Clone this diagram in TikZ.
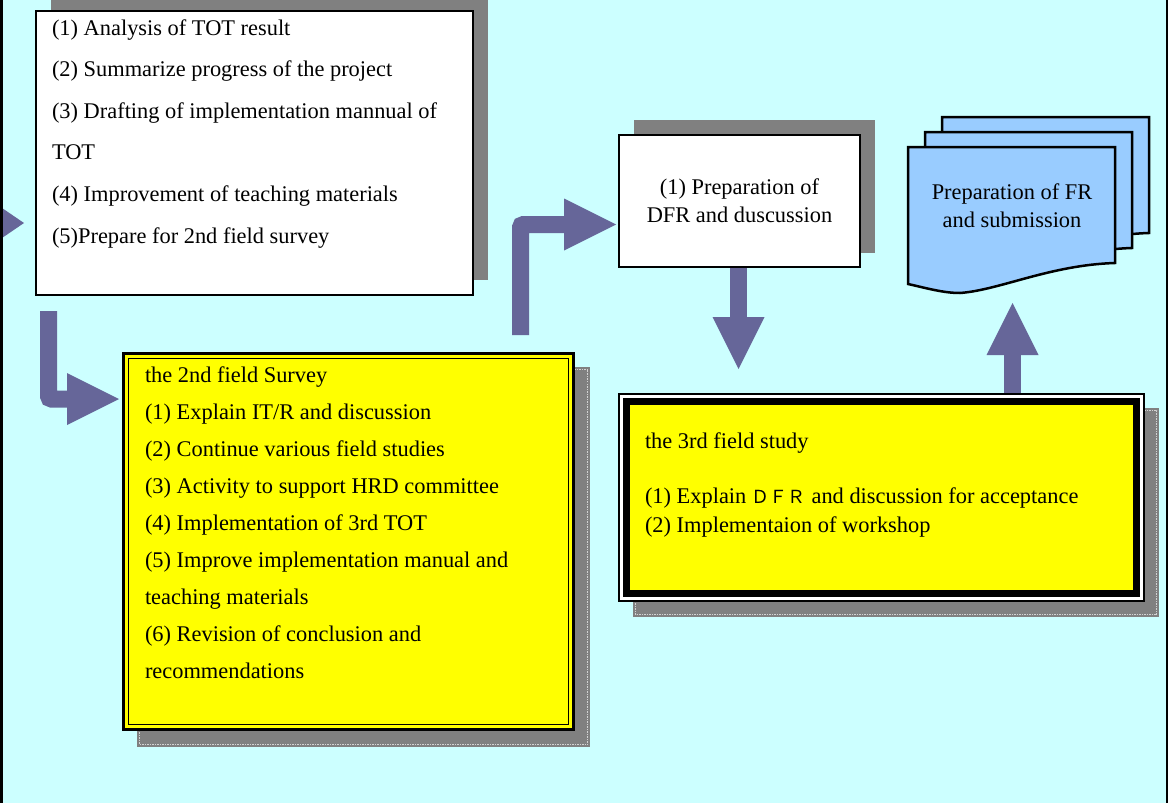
\documentclass[tikz,border=0pt]{standalone}
\usepackage{fontspec}
\setmainfont{Liberation Serif}
\newfontfamily\cjkgothic{Noto Sans CJK JP}
\usetikzlibrary{calc,arrows.meta,backgrounds}

\definecolor{bgcyan}{HTML}{CCFFFF}
\definecolor{flowarrow}{HTML}{666699}
\definecolor{sheetblue}{HTML}{99CCFF}
\definecolor{shadegray}{HTML}{808080}
\definecolor{notepad}{HTML}{FFFF00}

\tikzset{
  plainbox/.style={draw=black, fill=white, inner sep=0pt, outer sep=0pt, anchor=north west},
  % multi-line text: the base anchor sits on the last line's baseline
  listtext/.style={inner sep=0pt, outer sep=0pt, align=left, anchor=base west},
  flow/.style={draw=flowarrow, line width=17pt, rounded corners=3pt,
    -{Triangle[length=52pt,width=52pt,line width=0pt]}},
  shade/.style={fill=shadegray},
  shadeline/.style={draw=white, draw opacity=0.65, line width=0.8pt, dash pattern=on 1.5pt off 1pt},
  sheet/.style={draw=black, line width=2.5pt, fill=sheetblue, line join=miter},
}

\begin{document}
\begin{tikzpicture}[x=1pt,y=-1pt]
\useasboundingbox (0,0) rectangle (1168,803);

% ---- first work phase ----
\node[plainbox, line width=2pt, minimum width=437pt, minimum height=284pt] (box1) at (36,11) {};
\node[listtext, font=\fontsize{22.4}{41.6}\selectfont] (box1text) at ($(box1.north west)+(16,232)$)
  {(1) Analysis of TOT result\\
   (2) Summarize progress of the project\\
   (3) Drafting of implementation mannual of\\
   TOT\\
   (4) Improvement of teaching materials\\
   (5)Prepare for 2nd field survey};

% ---- draft final report ----
\node[plainbox, line width=1.5pt, minimum width=241pt, minimum height=132pt, align=center,
      font=\fontsize{22.4}{28}\selectfont] (dfr) at (619,135)
  {(1) Preparation of\\DFR and duscussion};

% ---- second field survey ----
\node[draw=black, line width=3pt, fill=notepad, minimum width=450pt, minimum height=376pt,
      anchor=north west, inner sep=0pt, outer sep=0pt] (box2) at (123.5,353.5) {};
\draw[line width=1.5pt] ($(box2.north west)+(5,5)$) rectangle ($(box2.south east)+(-5,-5)$);
\node[listtext, font=\fontsize{22.4}{37}\selectfont] (box2text) at ($(box2.north west)+(21.5,324.5)$)
  {the 2nd field Survey\\
   (1) Explain IT/R and discussion\\
   (2) Continue various field studies\\
   (3) Activity to support HRD committee\\
   (4) Implementation of 3rd TOT\\
   (5) Improve implementation manual and\\
   teaching materials\\
   (6) Revision of conclusion and\\
   recommendations};

% ---- third field study ----
\node[draw=black, line width=1.5pt, fill=white, minimum width=525pt, minimum height=207pt,
      anchor=north west, inner sep=0pt, outer sep=0pt] (box3) at (619,394) {};
\draw[line width=7pt, fill=notepad] ($(box3.north west)+(7.5,7.5)$) rectangle ($(box3.south east)+(-7.5,-7.5)$);
\node[listtext, font=\fontsize{22.4}{29}\selectfont] (box3text) at ($(box3.north west)+(26,138)$)
  {the 3rd field study\\[26pt]
   (1) Explain {\cjkgothic\fontsize{18}{18}\selectfont ＤＦＲ} and discussion for acceptance\\
   (2) Implementaion of workshop};

% ---- final report: stacked document sheets ----
\begin{scope}[shift={(908,147)}]
  \foreach \dx/\dy in {34/-30, 17/-15, 0/0}{
    \draw[sheet, shift={(\dx,\dy)}] (0,0) -- (207,0) -- (207,116)
      .. controls (142,118) and (92,143) .. (52,146)
      .. controls (35,146) and (18,141) .. (0,137) -- cycle;
  }
\end{scope}
\node[font=\fontsize{22.4}{28}\selectfont, align=center, inner sep=0pt] (doctext) at (1012,206)
  {Preparation of FR\\and submission};

% ---- flow arrows ----
\coordinate (inlet) at (-30,223);
\draw[flow, -{Triangle[length=44pt,width=60pt,line width=0pt]}] (inlet) -- ($(box1.north west)+(-12,212)$);
\draw[flow] ($(box1.south west)+(12.5,16)$) |- ($(box2.north west)+(-4.5,45.5)$);
\draw[flow] ($(box2.north west)+(397,-18.5)$) |- ($(dfr.south west)+(-3,-42.5)$);
\draw[flow] ($(dfr.south)+(-1,1)$) -- ($(dfr.south |- box3.north)+(-1,-25)$);
\draw[flow] ($(box3.north west)+(393.5,-1)$) -- ($(doctext.center)+(0.5,97)$);

% ---- frame edges ----
\draw[line width=2.5pt] (1.25,0) -- (1.25,803);
\draw[line width=2.5pt] (1166.75,0) -- (1166.75,803);

% ---- background and drop shadows ----
\begin{pgfonlayer}{background}
  \fill[bgcyan] (0,0) rectangle (1168,803);
  \fill[shade] ($(box1.north west)+(15,-15)$) rectangle ($(box1.south east)+(15,-15)$);
  \fill[shade] ($(dfr.north west)+(15,-15)$) rectangle ($(dfr.south east)+(15,-14)$);
  \fill[shade] ($(box2.north west)+(13.5,13.5)$) rectangle ($(box2.south east)+(16.5,17.5)$);
  \draw[shadeline] ($(box2.north west)+(16,16)$) rectangle ($(box2.south east)+(14,15)$);
  \fill[shade] ($(box3.north west)+(14,14)$) rectangle ($(box3.south east)+(15,16)$);
  \draw[shadeline] ($(box3.north west)+(16.5,16.5)$) rectangle ($(box3.south east)+(12.5,13.5)$);
\end{pgfonlayer}
\end{tikzpicture}
\end{document}
